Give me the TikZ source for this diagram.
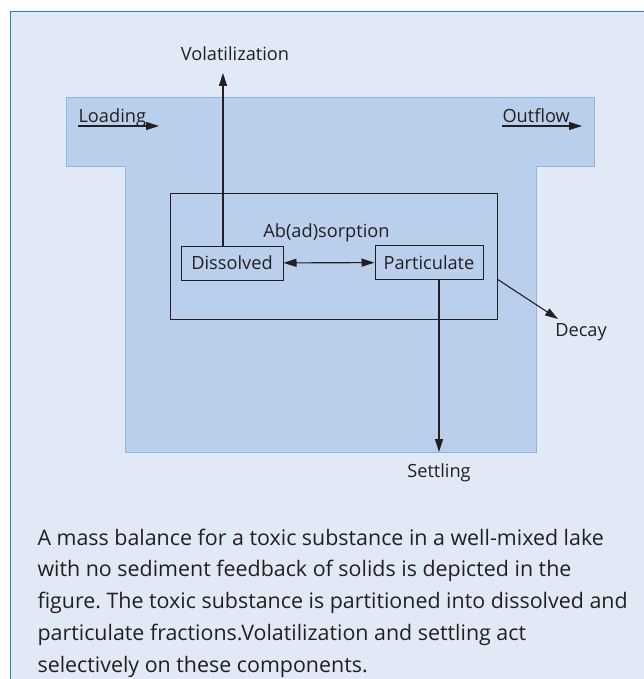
\documentclass[tikz,border=0pt]{standalone}
\usepackage{fontspec}
\setmainfont{Open Sans}
\frenchspacing
\usetikzlibrary{arrows.meta,positioning}
\definecolor{panelfill}{HTML}{E1E9F6}
\definecolor{panelline}{HTML}{2C7FCB}
\definecolor{lakefill}{HTML}{B9CFEB}
\definecolor{lakeline}{HTML}{8DB7E3}
\definecolor{ink}{HTML}{231F20}

\begin{document}
\begin{tikzpicture}[x=1pt,y=-1pt,>={Triangle[length=13pt,width=8pt]},line width=1.1pt,
  every node/.style={text=ink,font=\fontsize{18.2}{21}\selectfont},
  comp box/.style={draw=ink,line width=1pt,inner sep=0pt,minimum height=34pt},
  flow/.style={->,draw=ink},
  label text/.style={inner sep=0pt}]
  \useasboundingbox (0,0) rectangle (644,679);
  \fill[white] (0,0) rectangle (644,679);
  \draw[panelline,fill=panelfill,line width=1.5pt] (660,11.5) -- (10.5,11.5) -- (10.5,690) -- (660,690);
  \draw[lakeline,fill=lakefill,line width=1pt] (66,98) -- (594,98) -- (594,167) -- (536,167) -- (536,452)
    -- (125,452) -- (125,167) -- (66,167) -- cycle;
  \draw[ink,line width=1pt] (170,193) rectangle (497,319);

  \node[comp box,minimum width=102pt] (diss) at (232,263) {Dissolved};
  \node[comp box,minimum width=108pt] (part) at (429,262.5) {Particulate};
  \node[label text] (sorp) at (326.5,233) {Ab(ad)sorption};
  \node[label text] (vol) at (235,54) {Volatilization};
  \node[label text,anchor=base west] (load) at (78,123) {Loading};
  \node[label text,anchor=base west] (out) at (502,123) {Outflow};
  \node[label text] (settle) at (439,473) {Settling};
  \node[label text] (decay) at (581,332) {Decay};

  \coordinate (volfoot) at ([xshift=-9pt]diss.north);
  \coordinate (voltip) at (223,73);
  \coordinate (settlefoot) at ([xshift=10pt]part.south);
  \coordinate (settletip) at (439,452);
  \coordinate (decayfoot) at (497,279);
  \coordinate (decaytip) at (558,319);
  \coordinate (loadtip) at (159,126);
  \coordinate (outtip) at (582,126);

  \draw[<->,ink] (diss) -- (part);
  \draw[flow] (volfoot) -- (voltip);
  \draw[flow] (settlefoot) -- (settletip);
  \draw[flow] (decayfoot) -- (decaytip);
  \draw[flow] ([yshift=-3pt]load.base west) -- (loadtip);
  \draw[flow] ([yshift=-3pt]out.base west) -- (outtip);

  \node[anchor=base west,align=left,inner sep=0pt,font=\fontsize{21.4}{31.7}\selectfont] (caption) at (37,672)
    {A mass balance for a toxic substance in a well-mixed lake\\
     with no sediment feedback of solids is depicted in the\\
     figure. The toxic substance is partitioned into dissolved and\\
     particulate fractions.Volatilization and settling act\\
     selectively on these components.};
\end{tikzpicture}
\end{document}
